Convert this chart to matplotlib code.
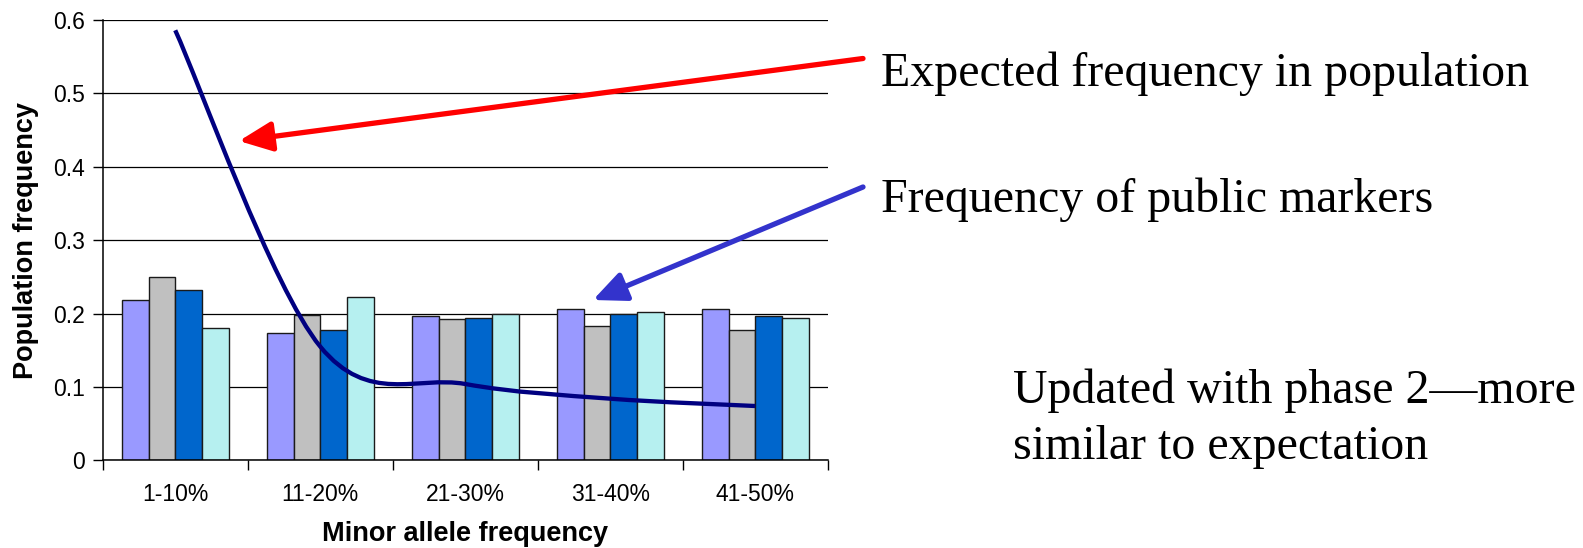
import numpy as np
import matplotlib
matplotlib.use('Agg')
from matplotlib import pyplot as plt
from matplotlib.path import Path
from matplotlib.patches import PathPatch

# minor allele frequency bins
bins = ['1-10%', '11-20%', '21-30%', '31-40%', '41-50%']

# observed marker frequencies, one list per bar series
series_1 = [0.219, 0.173, 0.196, 0.206, 0.206]
series_2 = [0.250, 0.198, 0.192, 0.183, 0.178]
series_3 = [0.232, 0.178, 0.194, 0.200, 0.196]
series_4 = [0.180, 0.223, 0.200, 0.202, 0.194]

# expected frequency in population (smoothed line)
expected = [0.586, 0.155, 0.104, 0.084, 0.074]

bar_colors = ['#9999FF', '#C0C0C0', '#0066CC', '#B6F0F0']

plt.rcParams['font.family'] = 'Liberation Sans'

fig = plt.figure(figsize=(15.83, 5.48), dpi=100)
ax = fig.add_axes([0.0649, 0.160, 0.458, 0.8035])

x = np.arange(len(bins))
w = 0.184
all_series = [series_1, series_2, series_3, series_4]
for k, vals in enumerate(all_series):
    ax.bar(x + (k - 1.5) * w, vals, w, color=bar_colors[k], edgecolor='#1a1a1a',
           linewidth=1.0, zorder=2)


def smooth_path(xs, ys):
    # cubic bezier through the points (catmull-rom style tangents)
    pts = np.column_stack([xs, ys]).astype(float)
    n = len(pts)
    verts = [pts[0]]
    codes = [Path.MOVETO]
    for i in range(n - 1):
        p_prev = pts[i - 1] if i > 0 else pts[i]
        p_next2 = pts[i + 2] if i + 2 < n else pts[i + 1]
        c1 = pts[i] + (pts[i + 1] - p_prev) / 6.0
        c2 = pts[i + 1] - (p_next2 - pts[i]) / 6.0
        verts += [c1, c2, pts[i + 1]]
        codes += [Path.CURVE4] * 3
    return Path(verts, codes)


line = PathPatch(smooth_path(x, expected), facecolor='none', edgecolor='#000080',
                 linewidth=3.1, capstyle='butt', zorder=3)
ax.add_patch(line)

ax.set_xlim(-0.5, 4.5)
ax.set_ylim(0, 0.6)
ax.set_yticks(np.arange(0, 0.61, 0.1))
ax.set_yticklabels(['0', '0.1', '0.2', '0.3', '0.4', '0.5', '0.6'])
ax.yaxis.grid(True, color='black', linewidth=0.9, zorder=0)
ax.set_axisbelow(True)

# ticks sit between categories, labels in the middle
ax.set_xticks(np.arange(-0.5, 5.0, 1.0))
ax.set_xticklabels([])
ax.set_xticks(x, minor=True)
ax.set_xticklabels(bins, minor=True)
ax.tick_params(axis='x', which='major', direction='out', length=7, width=1)
ax.tick_params(axis='x', which='minor', length=0, pad=16, labelsize=16.5)
ax.tick_params(axis='y', direction='out', length=7, width=1, pad=6, labelsize=16.5)

for s in ['top', 'right']:
    ax.spines[s].set_visible(False)
for s in ['left', 'bottom']:
    ax.spines[s].set_linewidth(1.1)
    ax.spines[s].set_color('black')

ax.set_ylabel('Population frequency', fontsize=19.5, fontweight='bold')
ax.yaxis.set_label_coords(-0.0875, 0.5)
ax.set_xlabel('Minor allele frequency', fontsize=19.5, fontweight='bold', labelpad=11)

# callout arrows, in figure pixels
H = 548
ax.annotate('', xy=(239, H - 141), xytext=(863, H - 58.5),
            xycoords='figure pixels', textcoords='figure pixels',
            arrowprops=dict(arrowstyle='-|>,head_length=1.0,head_width=0.45',
                            color='#FF0000', lw=3.8, shrinkA=0, shrinkB=0,
                            mutation_scale=20))
ax.annotate('', xy=(593, H - 300), xytext=(863, H - 187),
            xycoords='figure pixels', textcoords='figure pixels',
            arrowprops=dict(arrowstyle='-|>,head_length=1.0,head_width=0.45',
                            color='#3333CC', lw=3.8, shrinkA=0, shrinkB=0,
                            mutation_scale=20))

serif = 'Liberation Serif'
fig.text(881 / 1583, 1 - 86 / H, 'Expected frequency in population',
         family=serif, fontsize=34.5, va='baseline', ha='left')
fig.text(881 / 1583, 1 - 212 / H, 'Frequency of public markers',
         family=serif, fontsize=34.5, va='baseline', ha='left')
fig.text(1013 / 1583, 1 - 403 / H, 'Updated with phase 2\u2014more',
         family=serif, fontsize=34.5, va='baseline', ha='left')
fig.text(1013 / 1583, 1 - 459 / H, 'similar to expectation',
         family=serif, fontsize=34.5, va='baseline', ha='left')

plt.savefig('out.png', dpi=100)
